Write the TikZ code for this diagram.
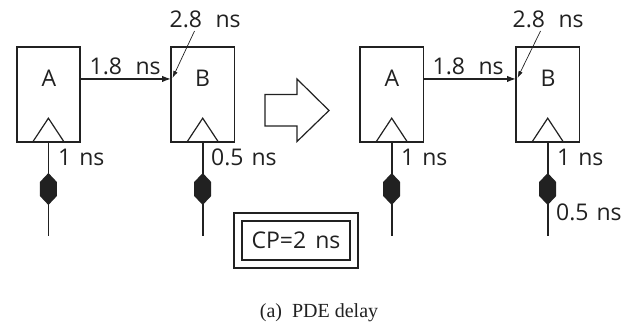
\documentclass[tikz,border=0pt]{standalone}
\usepackage{fontspec}
\setmainfont{Open Sans}
\newfontfamily\capfont{Liberation Serif}
\usetikzlibrary{arrows.meta,calc}
\definecolor{ink}{gray}{0.13}
\newcommand{\widefont}{\fontsize{23}{23}\selectfont\spaceskip 13.5pt\relax}
\newcommand{\narrowfont}{\fontsize{23}{23}\selectfont\spaceskip 8pt\relax}
\newcommand{\cpfont}{\fontsize{23}{23}\selectfont\spaceskip 9pt\relax}
\tikzset{
  x=1pt,y=-1pt,
  line/.style={draw=ink,line width=1.6pt},
  ffbox/.style={draw=ink,line width=1.6pt,outer sep=0pt,minimum width=63.4pt,minimum height=94.5pt,inner sep=0pt,anchor=north west},
  boxname/.style={inner sep=0pt,text=ink,font=\fontsize{23}{23}\selectfont},
  lbl/.style={inner sep=0pt,text=ink,font=\widefont,anchor=base west},
  lblc/.style={inner sep=0pt,text=ink,font=\narrowfont,anchor=base west},
  sig/.style={draw=ink,line width=1.3pt,-{Latex[length=9pt,width=6.5pt]}},
  thin/.style={draw=ink,line width=0.7pt,-{Latex[length=7pt,width=4.5pt]}}
}
\newcommand{\hexat}[1]{\fill[ink] ($(#1)+(0,-16)$) -- ++(8.5,9) -- ++(0,14) -- ++(-8.5,9) -- ++(-8.5,-9) -- ++(0,-14) -- cycle;}
\newcommand{\clk}[1]{\draw[line,line width=1.2pt] ($(#1.south)+(-15.5,0)$) -- ($(#1.south)+(0,-23.5)$) -- ($(#1.south)+(15.5,0)$);}
\begin{document}
\begin{tikzpicture}
\useasboundingbox (0,0) rectangle (636,327);
% left pair
\node[ffbox] (a1) at (16.7,47.2) {};
\node[ffbox] (b1) at (171,47.2) {};
\node[boxname] at (49,78.5) {A};
\node[boxname] at (202.5,78.5) {B};
\clk{a1}\clk{b1}
\coordinate (a1end) at (48.4,236);
\coordinate (b1end) at (202.7,236);
\coordinate (a1hex) at (48.4,189);
\coordinate (b1hex) at (202.7,189);
\draw[line] (a1.south) -- (a1end);
\draw[line] (b1.south) -- (b1end);
\hexat{a1hex}\hexat{b1hex}
\draw[sig] (a1.east) ++(0,-15.5) coordinate (a1o) -- (a1o -| b1.west);
\node[lbl] at (89.5,74) {1.8 ns};
\node[lbl] (t1) at (169.5,27) {2.8 ns};
\coordinate (t1f) at (194.5,31);
\coordinate (t1t) at (172.5,78);
\draw[thin] (t1f) -- (t1t);
\node[lblc] at (58,165) {1 ns};
\node[lblc] at (211,165) {0.5 ns};
% big arrow
\draw[line,line width=1.2pt] (265,94.5) -- (297,94.5) -- (297,79) -- (329,110.5) -- (297,141.5) -- (297,126) -- (265,126) -- cycle;
% right pair
\node[ffbox] (a2) at (360,47.2) {};
\node[ffbox] (b2) at (516,47.2) {};
\node[boxname] at (392,78.5) {A};
\node[boxname] at (548,78.5) {B};
\clk{a2}\clk{b2}
\coordinate (a2end) at (391.7,236);
\coordinate (b2end) at (547.7,236);
\coordinate (a2hex) at (391.7,189);
\coordinate (b2hex) at (547.7,189);
\draw[line] (a2.south) -- (a2end);
\draw[line] (b2.south) -- (b2end);
\hexat{a2hex}\hexat{b2hex}
\draw[sig] (a2.east) ++(0,-15.5) coordinate (a2o) -- (a2o -| b2.west);
\node[lbl] at (432.5,74) {1.8 ns};
\node[lbl] (t2) at (512.5,27) {2.8 ns};
\coordinate (t2f) at (540.5,31);
\coordinate (t2t) at (517.5,78);
\draw[thin] (t2f) -- (t2t);
\node[lblc] at (401,165) {1 ns};
\node[lblc] at (557,165) {1 ns};
\node[lblc] at (556,220) {0.5 ns};
% CP
\node[draw=ink,line width=1.5pt,outer sep=0pt,minimum width=108pt,minimum height=39pt,inner sep=0pt,text=ink,font=\cpfont] (cp) at (296,240.5) {CP=2 ns};
\node[draw=ink,line width=1.5pt,outer sep=0pt,minimum width=124pt,minimum height=55pt,inner sep=0pt] (cpo) at (296,240.5) {};
% caption
\node[inner sep=0pt,font=\capfont\fontsize{20}{20}\selectfont,text=ink] (cap) at (319,313) {(a)\hspace{0.5em}PDE delay};
\end{tikzpicture}
\end{document}
